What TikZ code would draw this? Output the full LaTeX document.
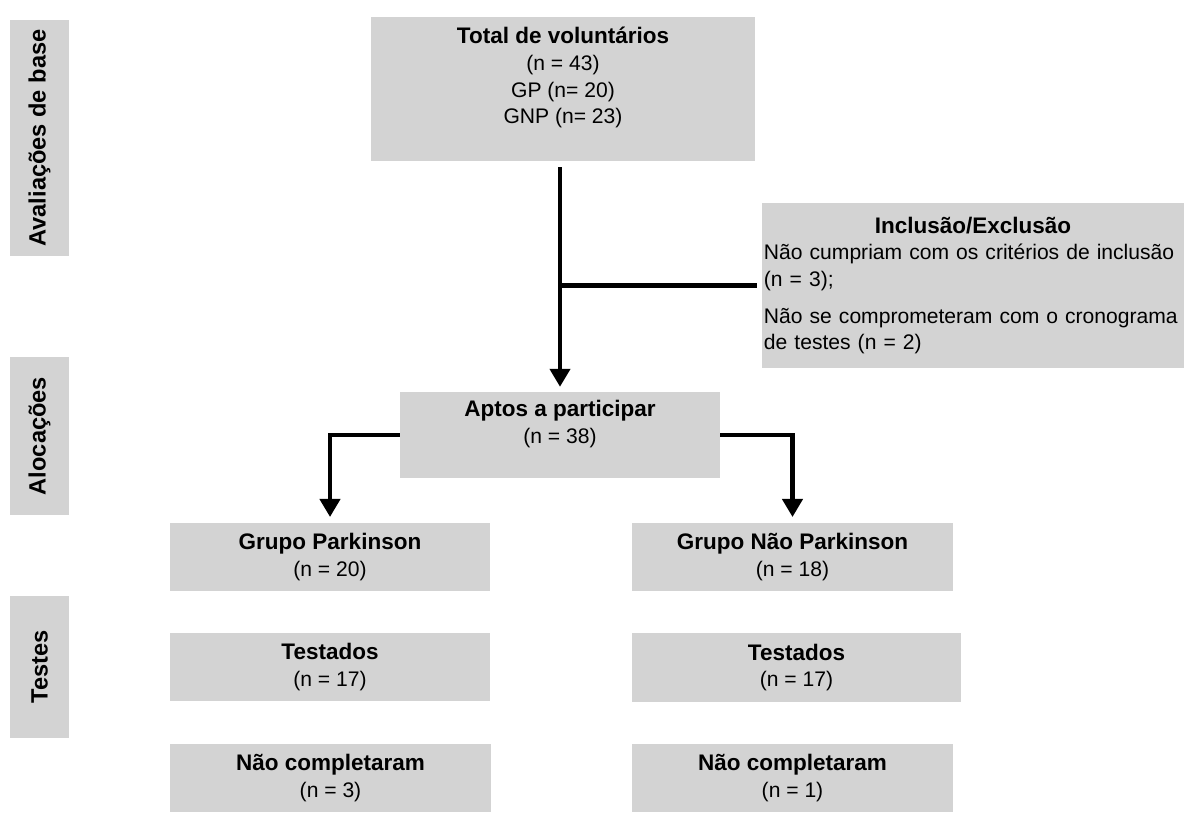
\documentclass[tikz,border=0pt]{standalone}
\usepackage{fontspec}
\setmainfont{Liberation Sans}
\usetikzlibrary{arrows.meta}
\definecolor{boxgray}{RGB}{211,211,211}
\newcommand{\hd}[1]{{\fontsize{16}{19}\selectfont\bfseries #1}}
\begin{document}
\begin{tikzpicture}[x=0.025cm,y=-0.025cm,inner sep=0pt,outer sep=0pt,line width=3pt,
>={Triangle[width=0.5cm,length=0.45cm]},
flowbox/.style={fill=boxgray,rectangle,align=center,minimum width=8cm,minimum height=1.7cm,
  font=\fontsize{15}{19}\selectfont},
stagebox/.style={fill=boxgray,rectangle,rotate=90,minimum height=1.475cm,
  font=\fontsize{16.8}{19}\selectfont\bfseries}]
\useasboundingbox (0,0) rectangle (1184,813);
% etapas
\draw (39.5,138) node[stagebox,minimum width=5.9cm] (base) {Avaliações de base};
\draw (39.5,436) node[stagebox,minimum width=3.95cm] (aloc) {Alocações};
\draw (39.5,667) node[stagebox,minimum width=3.55cm] (testes) {Testes};
% caixas
\draw (563,89) node[flowbox,minimum width=9.6cm,minimum height=3.6cm] (total)
  {\hd{Total de voluntários}\\(n = 43)\\GP (n= 20)\\GNP (n= 23)\\ \mbox{}};
\draw (973,285.5) node[fill=boxgray,rectangle,text width=10.45cm,inner xsep=0.05cm,
  minimum height=4.125cm,align=left,font=\fontsize{15}{19}\selectfont] (incl)
  {\hyphenpenalty=10000
   {\centering\hd{Inclusão/Exclusão}\par}
   \raggedright
   Não cumpriam com os critérios de inclusão\\(n = 3);\par\vspace{0.25cm}
   Não se comprometeram com o cronograma\\de testes (n = 2)};
\draw (560,435) node[flowbox,minimum height=2.15cm] (aptos)
  {\hd{Aptos a participar}\\(n = 38)\\ \mbox{}};
\draw (330,557) node[flowbox] (gp) {\hd{Grupo Parkinson}\\(n = 20)};
\draw (792.5,557) node[flowbox,minimum width=8.025cm] (gnp) {\hd{Grupo Não Parkinson}\\(n = 18)};
\draw (330,667) node[flowbox] (testgp) {\hd{Testados}\\(n = 17)};
\draw (796.5,667.5) node[flowbox,minimum width=8.225cm] (testgnp) {\hd{Testados}\\(n = 17)};
\draw (330.5,778) node[flowbox,minimum width=8.025cm] (ncgp) {\hd{Não completaram}\\(n = 3)};
\draw (792.5,778) node[flowbox,minimum width=8.025cm] (ncgnp) {\hd{Não completaram}\\(n = 1)};
% ligacoes
\coordinate (junc) at (aptos.north |- incl.west);
\draw[->,shorten <=0.15cm,shorten >=0.13cm] (aptos.north |- total.south) -- (aptos.north);
\draw[shorten >=0.12cm] (junc) -- (incl.west);
\draw[->,shorten >=0.15cm] (aptos.west) -| (gp.north);
\draw[->,shorten >=0.15cm] (aptos.east) -| (gnp.north);
\end{tikzpicture}
\end{document}
